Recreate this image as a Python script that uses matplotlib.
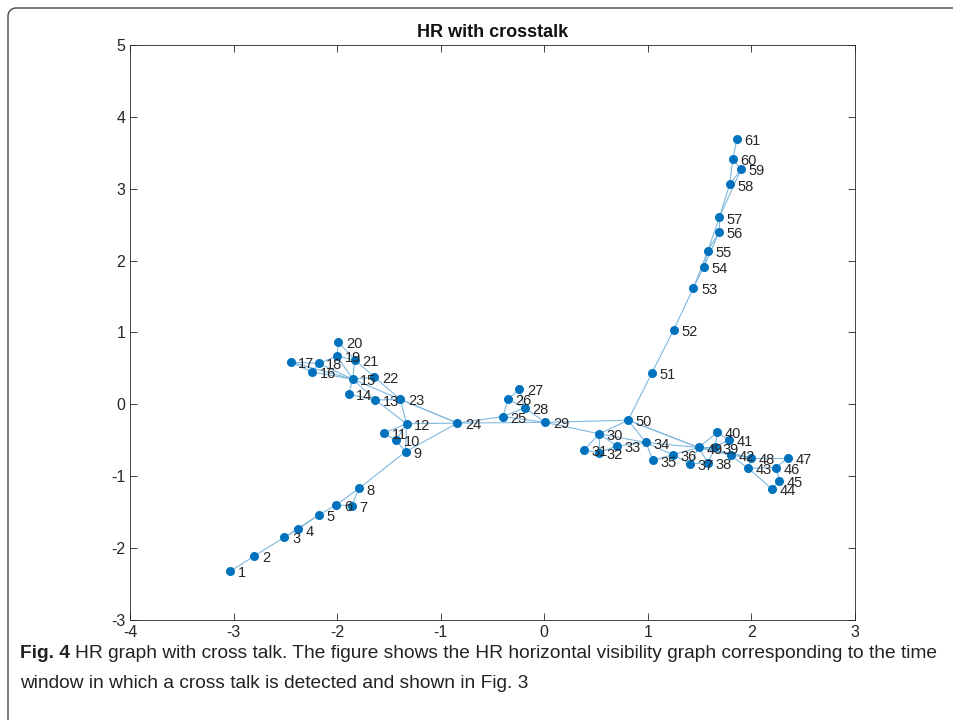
import matplotlib
matplotlib.use("Agg")
import numpy as np
import matplotlib.pyplot as plt
from matplotlib.lines import Line2D

# node positions of the HR visibility graph
node_x = [-3.03, -2.80, -2.51, -2.38, -2.18, -2.01, -1.86, -1.79, -1.34, -1.43,
          -1.55, -1.33, -1.63, -1.89, -1.85, -2.24, -2.45, -2.18, -2.00, -1.99,
          -1.83, -1.64, -1.39, -0.84, -0.40, -0.35, -0.24, -0.19, 0.01, 0.53,
          0.38, 0.53, 0.70, 0.98, 1.05, 1.24, 1.41, 1.58, 1.65, 1.67,
          1.78, 1.80, 1.97, 2.20, 2.27, 2.24, 2.35, 2.00, 1.49, 0.81,
          1.04, 1.25, 1.44, 1.54, 1.58, 1.69, 1.69, 1.79, 1.90, 1.82, 1.86]
node_y = [-2.32, -2.11, -1.85, -1.74, -1.54, -1.40, -1.41, -1.17, -0.66, -0.50,
          -0.40, -0.27, 0.06, 0.14, 0.35, 0.45, 0.59, 0.57, 0.67, 0.87,
          0.62, 0.38, 0.07, -0.26, -0.17, 0.07, 0.21, -0.05, -0.25, -0.41,
          -0.64, -0.67, -0.58, -0.53, -0.78, -0.70, -0.83, -0.81, -0.60, -0.39,
          -0.49, -0.71, -0.89, -1.18, -1.06, -0.88, -0.74, -0.74, -0.60, -0.22,
          0.44, 1.04, 1.62, 1.91, 2.14, 2.40, 2.60, 3.06, 3.27, 3.41, 3.69]
node_labels = [str(i + 1) for i in range(len(node_x))]

# extra (non consecutive) visibility links, 1-based
extra_edges = [(6, 8), (3, 5), (9, 24), (9, 12), (10, 12), (12, 23), (12, 24),
               (13, 15), (13, 23), (15, 22), (15, 23), (15, 21), (15, 19), (15, 18),
               (15, 17), (16, 18), (19, 21), (23, 24), (24, 29), (25, 28), (25, 29),
               (26, 28), (29, 50), (30, 32), (30, 33), (30, 34), (30, 50), (34, 36),
               (34, 49), (34, 50), (36, 49), (37, 49), (38, 49), (39, 49), (40, 49),
               (39, 41), (42, 49), (42, 48), (43, 48), (43, 46), (48, 49), (49, 50),
               (53, 55), (54, 56), (55, 57), (58, 60), (57, 59)]
edges = [(i, i + 1) for i in range(1, len(node_x))] + extra_edges

caption1 = 'HR graph with cross talk. The figure shows the HR horizontal visibility graph corresponding to the time'
caption2 = 'window in which a cross talk is detected and shown in Fig. 3'

plt.rcParams['font.family'] = ['Liberation Sans', 'DejaVu Sans']
plt.rcParams['axes.unicode_minus'] = False

fig = plt.figure(figsize=(9.54, 7.2), dpi=100)
ax = fig.add_axes([0.1363, 0.1389, 0.7599, 0.7986])

for a, b in edges:
    ax.plot([node_x[a - 1], node_x[b - 1]], [node_y[a - 1], node_y[b - 1]],
            color='#80b9de', lw=0.8, zorder=1)
ax.plot(node_x, node_y, 'o', color='#0072bd', ms=6.5, mec='none', zorder=2)
for x, y, t in zip(node_x, node_y, node_labels):
    ax.annotate(t, (x, y), xytext=(5.5, -1.5), textcoords='offset points',
                ha='left', va='center', fontsize=10.5, color='#262626', zorder=3)

ax.set_xlim(-4, 3)
ax.set_ylim(-3, 5)
ax.set_xticks(range(-4, 4))
ax.set_yticks(range(-3, 6))
ax.tick_params(direction='in', top=True, right=True, length=5, width=0.6,
               labelsize=11.5, colors='#262626')
for s in ax.spines.values():
    s.set_color('#262626')
    s.set_linewidth(0.6)
ax.set_title('HR with crosstalk', fontsize=13, fontweight='bold', color='#111111', pad=6)

# frame of the figure panel: left and top edge with a rounded corner (pixels)
r = 8
th = np.linspace(np.pi, np.pi / 2, 20)
fx = np.concatenate([[8, 8], 8 + r + r * np.cos(th), [960]])
fy = np.concatenate([[-10, 712 - r], 712 - r + r * np.sin(th), [712]])
fig.add_artist(Line2D(fx / 954, fy / 720, color='#444444', lw=1.0))

# caption, sized so the first line ends near the right edge
fs = 14
t1 = fig.text(20 / 954, 1 - 658 / 720, 'Fig. 4', fontsize=fs,
              fontweight='bold', color='#222222', va='baseline')
t2 = fig.text(0, 1 - 658 / 720, caption1, fontsize=fs, color='#222222', va='baseline')
t3 = fig.text(20 / 954, 1 - 688 / 720, caption2, fontsize=fs, color='#222222', va='baseline')
rend = fig.canvas.get_renderer()
w1 = t1.get_window_extent(renderer=rend).width
w2 = t2.get_window_extent(renderer=rend).width
fs = fs * (945 - 20 - 6) / (w1 + w2)
for t in (t1, t2, t3):
    t.set_fontsize(fs)
bb = t1.get_window_extent(renderer=rend)
t2.set_x((bb.x1 + 5) / 954)

fig.savefig('out.png', dpi=100)
